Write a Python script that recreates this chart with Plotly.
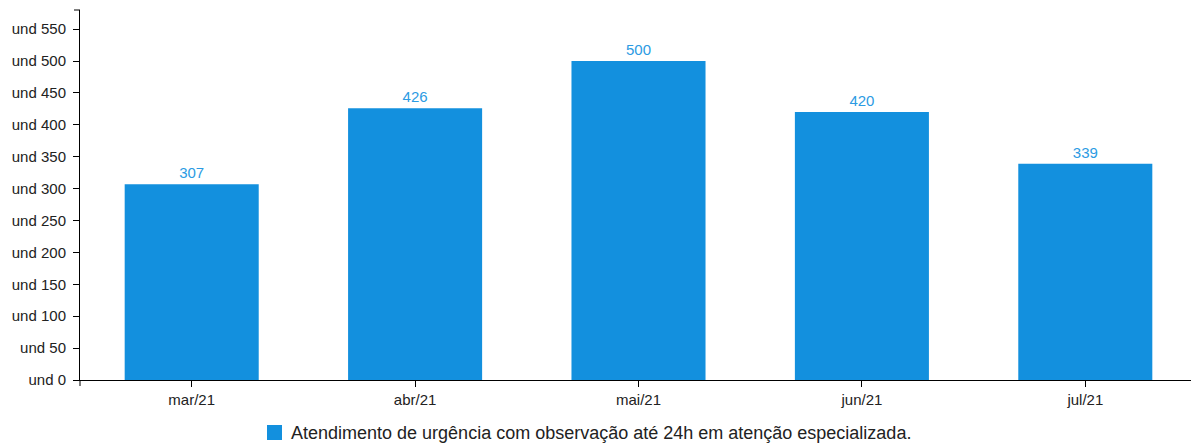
import plotly.graph_objects as go

categories = ["mar/21", "abr/21", "mai/21", "jun/21", "jul/21"]
values = [307, 426, 500, 420, 339]
series_name = "Atendimento de urgência com observação até 24h em atenção especializada."
y_tick_vals = [0, 50, 100, 150, 200, 250, 300, 350, 400, 450, 500, 550]
y_tick_text = ["und " + str(v) for v in y_tick_vals]

BAR = "#1390de"
LABEL = "#2c9be3"
FONT = "Liberation Sans, Arial, sans-serif"

# page body adds an 8px offset; compensate so the chart lands where the reference is
OFF = 8
W, H = 1199 - OFF, 445 - OFF
ML, MR, MT, MB = 80 - OFF, 2, 10 - OFF, 65
PW, PH = W - ML - MR, H - MT - MB

fig = go.Figure()
fig.add_trace(go.Bar(
    x=categories, y=values, name=series_name,
    marker=dict(color=BAR, line=dict(width=0)),
    text=[str(v) for v in values], textposition="outside",
    textfont=dict(color=LABEL, size=15, family=FONT),
    cliponaxis=False, showlegend=False,
))

fig.update_layout(
    width=W, height=H,
    margin=dict(l=ML, r=MR, t=MT, b=MB, autoexpand=False),
    paper_bgcolor="white", plot_bgcolor="white",
    font=dict(family=FONT, size=15, color="#222"),
    bargap=0.4,
    showlegend=False,
    xaxis=dict(showline=True, linecolor="black", linewidth=1, ticks="outside",
               ticklen=6, tickcolor="black", showgrid=False, zeroline=False,
               automargin=False, tickfont=dict(size=15, color="#222")),
    yaxis=dict(range=[0, 580], showline=True, linecolor="black", linewidth=1,
               ticks="outside", ticklen=6, tickcolor="black", showgrid=False,
               zeroline=False, tickvals=y_tick_vals, ticktext=y_tick_text,
               automargin=False, ticklabelstandoff=4,
               tickfont=dict(size=15, color="#222")),
)
# d3-style outer ticks at the axis ends
fig.add_shape(type="line", xref="paper", yref="paper", x0=0, x1=0, y0=0, y1=-6 / PH,
              line=dict(color="black", width=1))
fig.add_shape(type="line", xref="paper", yref="paper", x0=1, x1=1, y0=0, y1=-6 / PH,
              line=dict(color="black", width=1))
fig.add_shape(type="line", xref="paper", yref="paper", x0=0, x1=-6 / PW, y0=1, y1=1,
              line=dict(color="black", width=1))

# legend: square + text below the plot (positions given in window pixels)
def px_x(p):
    return (p - OFF - ML) / PW

def px_y(p):
    return (H - MB - (p - OFF)) / PH

fig.add_shape(type="rect", xref="paper", yref="paper",
              x0=px_x(267), x1=px_x(282), y0=px_y(440), y1=px_y(425),
              fillcolor=BAR, line=dict(width=0))
fig.add_annotation(xref="paper", yref="paper", x=px_x(289), y=px_y(432.5),
                   xanchor="left", yanchor="middle", showarrow=False,
                   text=series_name, font=dict(size=18, color="#222", family=FONT))

fig.write_html("out.html")
